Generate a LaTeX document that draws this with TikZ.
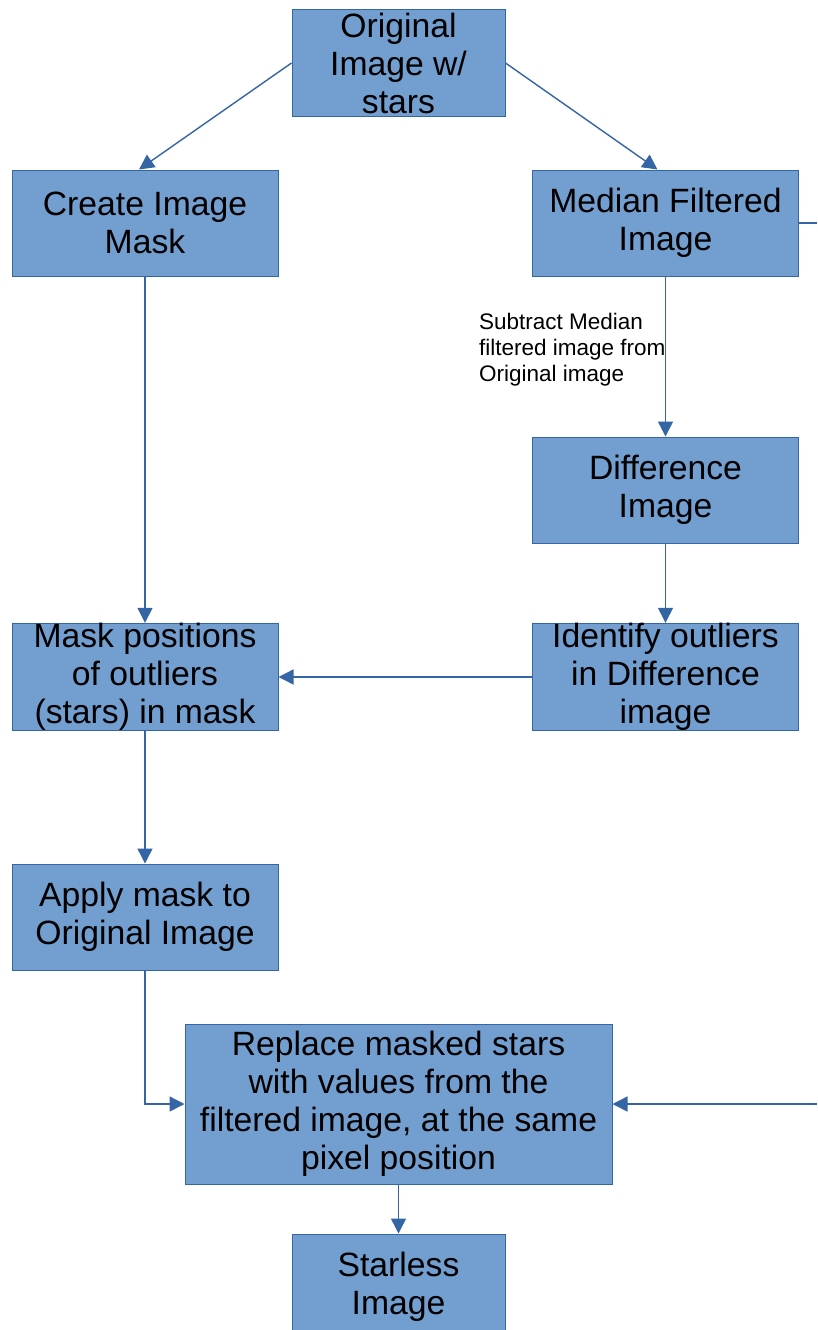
\documentclass[tikz,border=0pt]{standalone}
\usepackage{fontspec}
\setmainfont{Liberation Sans}
\usetikzlibrary{arrows.meta}
\definecolor{boxfill}{HTML}{729FCF}
\definecolor{linecol}{HTML}{3465A4}
\begin{document}
\begin{tikzpicture}[x=1pt,y=-1pt,
  box/.style={draw=linecol,line width=1pt,fill=boxfill,minimum width=#1,align=center,inner sep=0pt,
    font=\fontsize{33.7}{38}\selectfont},
  box/.default=266pt,
  conn/.style={draw=linecol,line width=1.4pt,-{Triangle[length=15pt,width=15pt]}},
  plain/.style={draw=linecol,line width=1.4pt}]
\useasboundingbox (0,0) rectangle (817,1330);
\clip (0,0) rectangle (817,1330);
\fill[white] (0,0) rectangle (817,1330);
\node[box=213pt,minimum height=106pt] (orig) at (398.5,63) {Original\\Image w/\\stars};
\node[box,minimum height=106pt] (create) at (145,223) {Create Image\\Mask};
\node[box,minimum height=106pt] (median) at (665.5,223) {Median Filtered\\Image};
\node[box,minimum height=106pt] (diff) at (665.5,490) {Difference\\Image};
\node[box,minimum height=106pt] (mask) at (145,677) {Mask positions\\of outliers\\(stars) in mask};
\node[box,minimum height=106pt] (ident) at (665.5,677) {Identify outliers\\in Difference\\image};
\node[box,minimum height=106pt] (apply) at (145,917) {Apply mask to\\Original Image};
\node[box=427pt,minimum height=160pt] (replace) at (398.5,1104) {Replace masked stars\\with values from the\\filtered image, at the same\\pixel position};
\node[box=213pt,minimum height=106pt] (starless) at (398.5,1287) {Starless\\Image};
\node[anchor=west,align=left,inner sep=0pt,font=\fontsize{22.5}{26}\selectfont] (lbl) at (479,350) {Subtract Median\\filtered image from\\Original image};
\coordinate (outR) at (817,223);
\coordinate (inR) at (817,1104);
\draw[conn] (orig.west) -- ([xshift=-6pt]create.north);
\draw[conn] (orig.east) -- ([xshift=-8pt]median.north);
\draw[conn] (median.south) -- (diff.north);
\draw[conn] (diff.south) -- (ident.north);
\draw[conn] (ident.west) -- (mask.east);
\draw[conn] (create.south) -- (mask.north);
\draw[conn] (mask.south) -- (apply.north);
\draw[conn] (apply.south) |- (replace.west);
\draw[conn] (replace.south) -- (starless.north);
\draw[plain] (median.east) -- (median.east -| outR);
\draw[conn] (inR) -- (replace.east);
\end{tikzpicture}
\end{document}
